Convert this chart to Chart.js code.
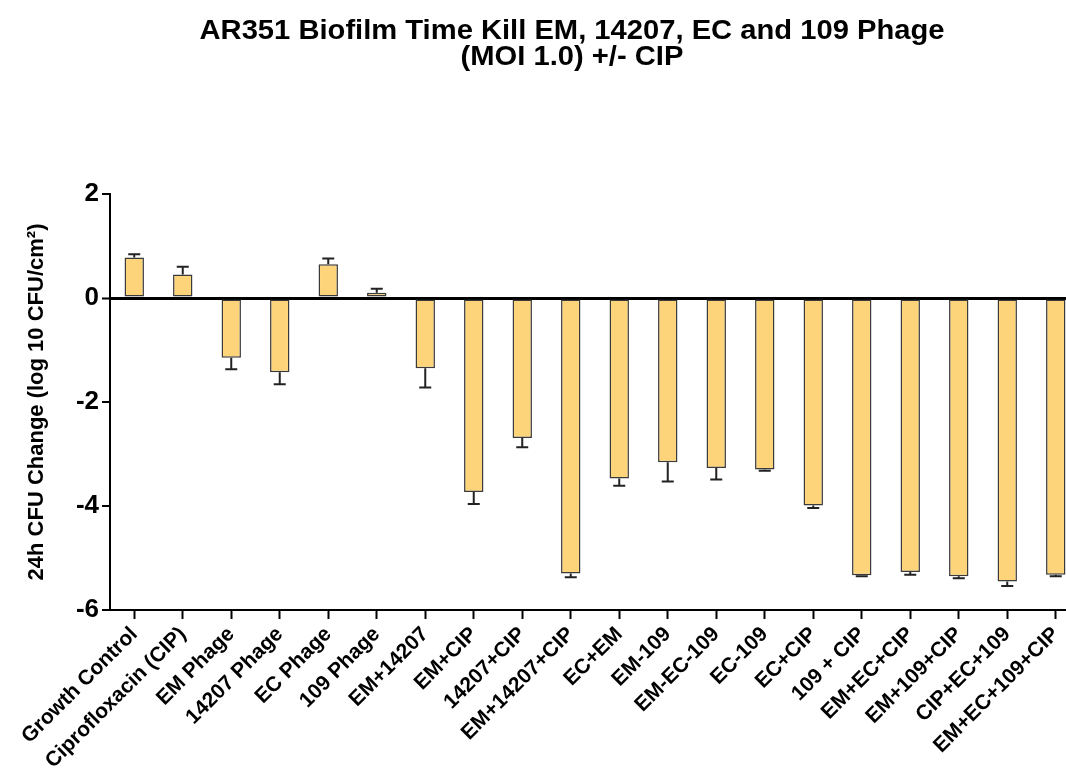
<!DOCTYPE html>
<html>
<head>
<meta charset="utf-8">
<script src="https://cdn.jsdelivr.net/npm/chart.js@4.4.1/dist/chart.umd.min.js"></script>
<style>
    html, body { margin: 0; padding: 0; background: #fff; overflow: hidden; }
    #wrap { width: 1080px; height: 781px; position: relative; }
</style>
</head>
<body>
<div id="wrap"><canvas id="chart_time_kill"></canvas></div>
<script>
    // Groupes testés (axe X)
    var groups = [
        "Growth Control", "Ciprofloxacin (CIP)", "EM Phage", "14207 Phage", "EC Phage",
        "109 Phage", "EM+14207", "EM+CIP", "14207+CIP", "EM+14207+CIP",
        "EC+EM", "EM-109", "EM-EC-109", "EC-109", "EC+CIP",
        "109 + CIP", "EM+EC+CIP", "EM+109+CIP", "CIP+EC+109", "EM+EC+109+CIP"
    ];
    // Variation moyenne à 24h (log10 CFU/cm²)
    var cfu_change = [
        0.78, 0.45, -1.15, -1.43, 0.65,
        0.10, -1.35, -3.73, -2.69, -5.30,
        -3.47, -3.16, -3.27, -3.30, -3.99,
        -5.33, -5.27, -5.35, -5.45, -5.32
    ];
    // Barres d'erreur (un seul côté, vers l'extérieur)
    var cfu_error = [
        0.06, 0.15, 0.22, 0.23, 0.11,
        0.08, 0.37, 0.23, 0.18, 0.07,
        0.14, 0.37, 0.22, 0.02, 0.05,
        0.02, 0.05, 0.04, 0.09, 0.03
    ];
    var y_ticks = [2, 0, -2, -4, -6];
    var title_lines = ["AR351 Biofilm Time Kill EM, 14207, EC and 109 Phage", "(MOI 1.0) +/- CIP"];

    var font_family = "'Liberation Sans', Arial, sans-serif";

    // Titre centré au-dessus du graphe (légèrement élargi comme l'original)
    var titlePlugin = {
        id: 'customTitle',
        afterDraw: function (chart) {
            var ctx = chart.ctx;
            ctx.save();
            ctx.translate(572, 0);
            ctx.scale(1.08, 1);
            ctx.fillStyle = '#000';
            ctx.font = 'bold 27px ' + font_family;
            ctx.textAlign = 'center';
            ctx.textBaseline = 'middle';
            ctx.fillText(title_lines[0], 0, 32);
            ctx.fillText(title_lines[1], 0, 58);
            ctx.restore();
        }
    };

    // Barres d'erreur
    var errorBarPlugin = {
        id: 'errorBars',
        afterDatasetsDraw: function (chart) {
            var ctx = chart.ctx;
            var meta = chart.getDatasetMeta(0);
            var y = chart.scales.y;
            ctx.save();
            ctx.strokeStyle = '#222';
            ctx.lineWidth = 2;
            meta.data.forEach(function (bar, i) {
                var v = cfu_change[i];
                var end = v >= 0 ? v + cfu_error[i] : v - cfu_error[i];
                var y0 = y.getPixelForValue(v);
                var y1 = y.getPixelForValue(end);
                ctx.beginPath();
                ctx.moveTo(bar.x, y0);
                ctx.lineTo(bar.x, y1);
                ctx.moveTo(bar.x - 6, y1);
                ctx.lineTo(bar.x + 6, y1);
                ctx.stroke();
            });
            ctx.restore();
        }
    };

    new Chart("chart_time_kill", {
        type: "bar",
        data: {
            labels: groups,
            datasets: [{
                label: "24h CFU Change",
                data: cfu_change,
                backgroundColor: "#FDD479",
                borderColor: "#3a3a3a",
                borderWidth: 1.5,
                borderSkipped: false,
                barPercentage: 0.4,
                categoryPercentage: 1.0
            }]
        },
        options: {
            responsive: true,
            maintainAspectRatio: false,
            animation: false,
            layout: { padding: { top: 194, right: 0, left: 0, bottom: 0 } },
            plugins: {
                legend: { display: false },
                tooltip: { enabled: false }
            },
            scales: {
                x: {
                    afterFit: function (scale) { scale.height = 171; },
                    border: { display: true, color: '#000', width: 2 },
                    grid: {
                        offset: false,
                        drawOnChartArea: false,
                        tickLength: 9,
                        tickWidth: 2,
                        tickColor: '#000'
                    },
                    ticks: {
                        autoSkip: false,
                        minRotation: 45,
                        maxRotation: 45,
                        padding: 3,
                        color: '#000',
                        font: { family: font_family, size: 21, weight: 'bold' }
                    }
                },
                y: {
                    min: -6,
                    max: 2,
                    afterFit: function (scale) { scale.width = 110; },
                    afterBuildTicks: function (scale) {
                        scale.ticks = y_ticks.map(function (v) { return { value: v }; });
                    },
                    border: { display: true, color: '#000', width: 2 },
                    grid: {
                        drawOnChartArea: true,
                        color: function (c) { return c.tick && c.tick.value === 0 ? '#000' : 'rgba(0,0,0,0)'; },
                        lineWidth: function (c) { return c.tick && c.tick.value === 0 ? 3 : 0; },
                        tickLength: 8,
                        tickWidth: 2,
                        tickColor: '#000'
                    },
                    ticks: {
                        padding: 3,
                        color: '#000',
                        font: { family: font_family, size: 26, weight: 'bold' }
                    },
                    title: {
                        display: true,
                        text: "24h CFU Change (log 10 CFU/cm²)",
                        color: '#000',
                        padding: { top: 24, bottom: 0 },
                        font: { family: font_family, size: 22, weight: 'bold' }
                    }
                }
            }
        },
        plugins: [titlePlugin, errorBarPlugin]
    });
</script>
</body>
</html>
